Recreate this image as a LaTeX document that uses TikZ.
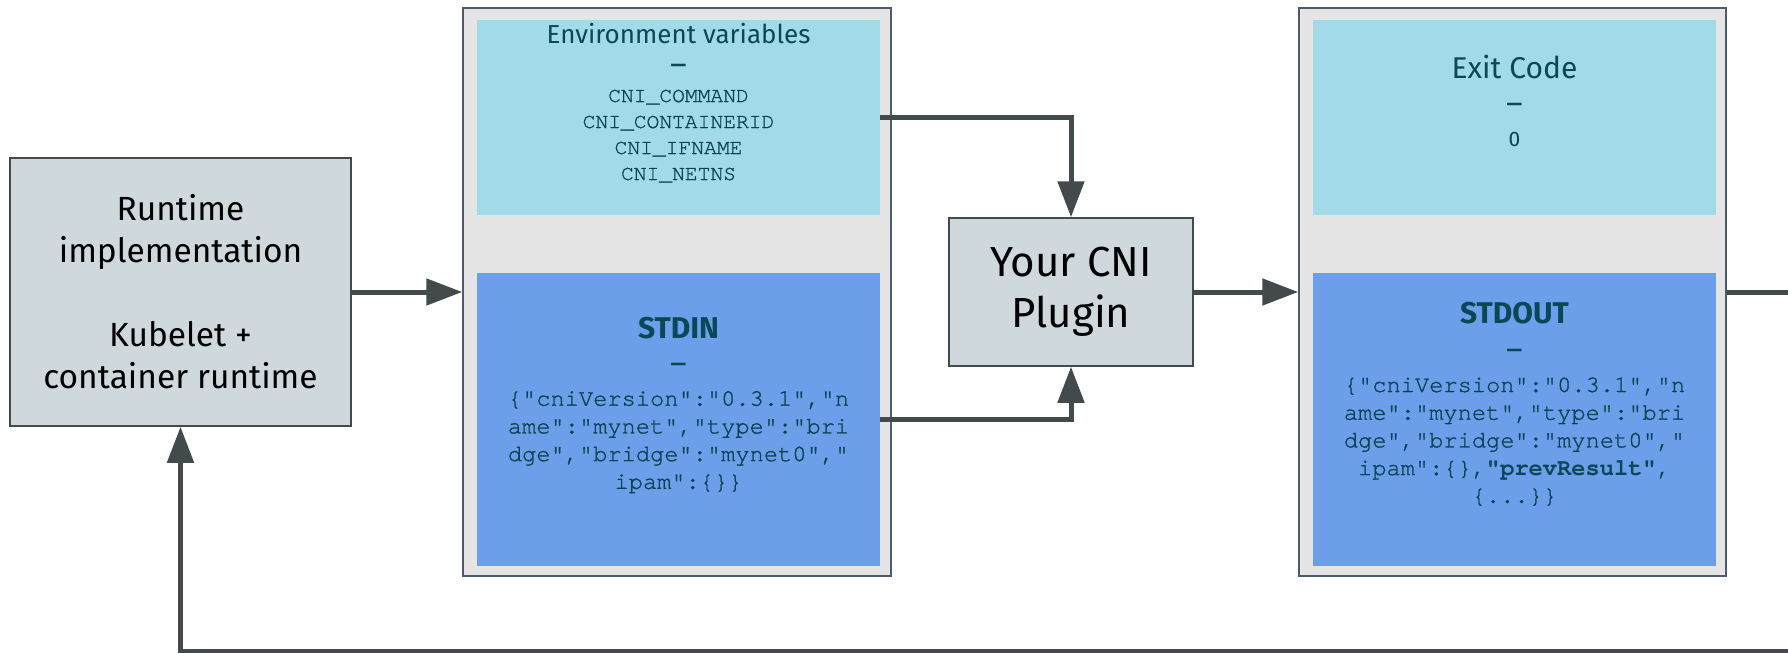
\documentclass[tikz,border=0pt]{standalone}
\usepackage{fontspec}
\setmainfont{Fira Sans}
\setmonofont{TeX Gyre Cursor}[UprightFeatures={FakeBold=1}]
\usetikzlibrary{positioning,arrows.meta}

\definecolor{boxgray}{HTML}{CFD8DC}
\definecolor{holdergray}{HTML}{E5E5E5}
\definecolor{holderline}{HTML}{4D5B70}
\definecolor{envcyan}{HTML}{A3DAE7}
\definecolor{ioblue}{HTML}{6C9EEA}
\definecolor{tealtext}{HTML}{0B4757}
\definecolor{monotext}{HTML}{0C4150}
\definecolor{arrowgray}{HTML}{424A4C}

\tikzset{
  procbox/.style={draw=arrowgray, line width=1.5pt, fill=boxgray, align=center, inner sep=0pt},
  holder/.style={draw=holderline, line width=1.5pt, fill=holdergray, inner sep=0pt},
  panel/.style={inner sep=0pt, minimum width=403pt},
  heading/.style={anchor=base, inner sep=0pt, text=tealtext, font=\fontsize{30}{36}\selectfont},
  dashmark/.style={anchor=base, inner sep=0pt, text=tealtext, font=\fontsize{32}{36}\selectfont},
  envline/.style={anchor=base, inner sep=0pt, text=monotext, font=\fontsize{21.3}{26}\ttfamily},
  jsonline/.style={anchor=base, inner sep=0pt, text=monotext, font=\fontsize{23.7}{28}\ttfamily},
  flow/.style={draw=arrowgray, line width=5pt, -{Triangle[length=36pt, width=26pt]}},
}

\begin{document}
\begin{tikzpicture}[x=1pt, y=-1pt]
  \useasboundingbox (0,0) rectangle (1788,653);
  \clip (0,0) rectangle (1788,653);

  % Runtime
  \node [procbox, minimum width=341pt, minimum height=268pt, font=\fontsize{33.5}{42}\selectfont] (runtime) at (180.5,292)
    {Runtime\\implementation\\[42pt]Kubelet +\\container runtime};

  % Input: environment and stdin
  \node [holder, minimum width=428pt, minimum height=568pt] (inbox) at (677,292) {};
  \node [panel, fill=envcyan, minimum height=195pt] (envvars) at (678.5,117.5) {};
  \node [panel, fill=ioblue, minimum height=293pt] (stdin) at (678.5,419.5) {};
  \node [heading, font=\fontsize{26}{30}\selectfont] (envtitle) at (678.5,43) {Environment variables};
  \node [dashmark] (envdash) at (678.5,75) {–};
  \foreach \txt [count=\i] in {CNI\_COMMAND,CNI\_CONTAINERID,CNI\_IFNAME,CNI\_NETNS}
    \node [envline] (env\i) at (678.5,76+26*\i) {\txt};
  \node [heading, font=\fontsize{30}{36}\selectfont\bfseries] (stdintitle) at (678.5,338) {STDIN};
  \node [dashmark] (stdindash) at (678.5,374) {–};
  \foreach \txt [count=\i] in {{\{"cniVersion":"0.3.1","n},{ame":"mynet","type":"bri},{dge","bridge":"mynet0","},{ipam":\{\}\}}}
    \node [jsonline] (stdin\i) at (678.5,378+27.7*\i) {\txt};

  % Plugin
  \node [procbox, minimum width=244pt, minimum height=148pt, font=\fontsize{42}{51}\selectfont] (plugin) at (1071,292)
    {Your CNI\\Plugin};

  % Output: exit code and stdout
  \node [holder, minimum width=427pt, minimum height=568pt] (outbox) at (1512.5,292) {};
  \node [panel, fill=envcyan, minimum height=195pt] (exitcode) at (1514.5,117.5) {};
  \node [panel, fill=ioblue, minimum height=293pt] (stdout) at (1514.5,419.5) {};
  \node [heading] (exittitle) at (1514.5,78) {Exit Code};
  \node [dashmark] (exitdash) at (1514.5,114) {–};
  \node [heading, text=monotext, font=\fontsize{21}{26}\selectfont] (exitvalue) at (1514.5,146) {0};
  \node [heading, font=\fontsize{30}{36}\selectfont\bfseries] (stdouttitle) at (1514.5,323) {STDOUT};
  \node [dashmark] (stdoutdash) at (1514.5,360) {–};
  \foreach \txt [count=\i] in {{\{"cniVersion":"0.3.1","n},{ame":"mynet","type":"bri},{dge","bridge":"mynet0","},{ipam":\{\},\textbf{\color{tealtext}"prevResult"},},{\{.{}.{}.\}\}}}
    \node [jsonline] (stdout\i) at (1514.5,364.3+27.7*\i) {\txt};

  % Connections
  \coordinate (loopturn) at (1800,651);
  \draw [flow] (runtime.east) -- (inbox.west);
  \draw [flow] (envvars.east) -| (plugin.north);
  \draw [flow] (stdin.east) -| (plugin.south);
  \draw [flow] (plugin.east) -- (outbox.west);
  \draw [flow] (outbox.east) -- (loopturn |- outbox.east) -- (loopturn) -| (runtime.south);
\end{tikzpicture}
\end{document}
